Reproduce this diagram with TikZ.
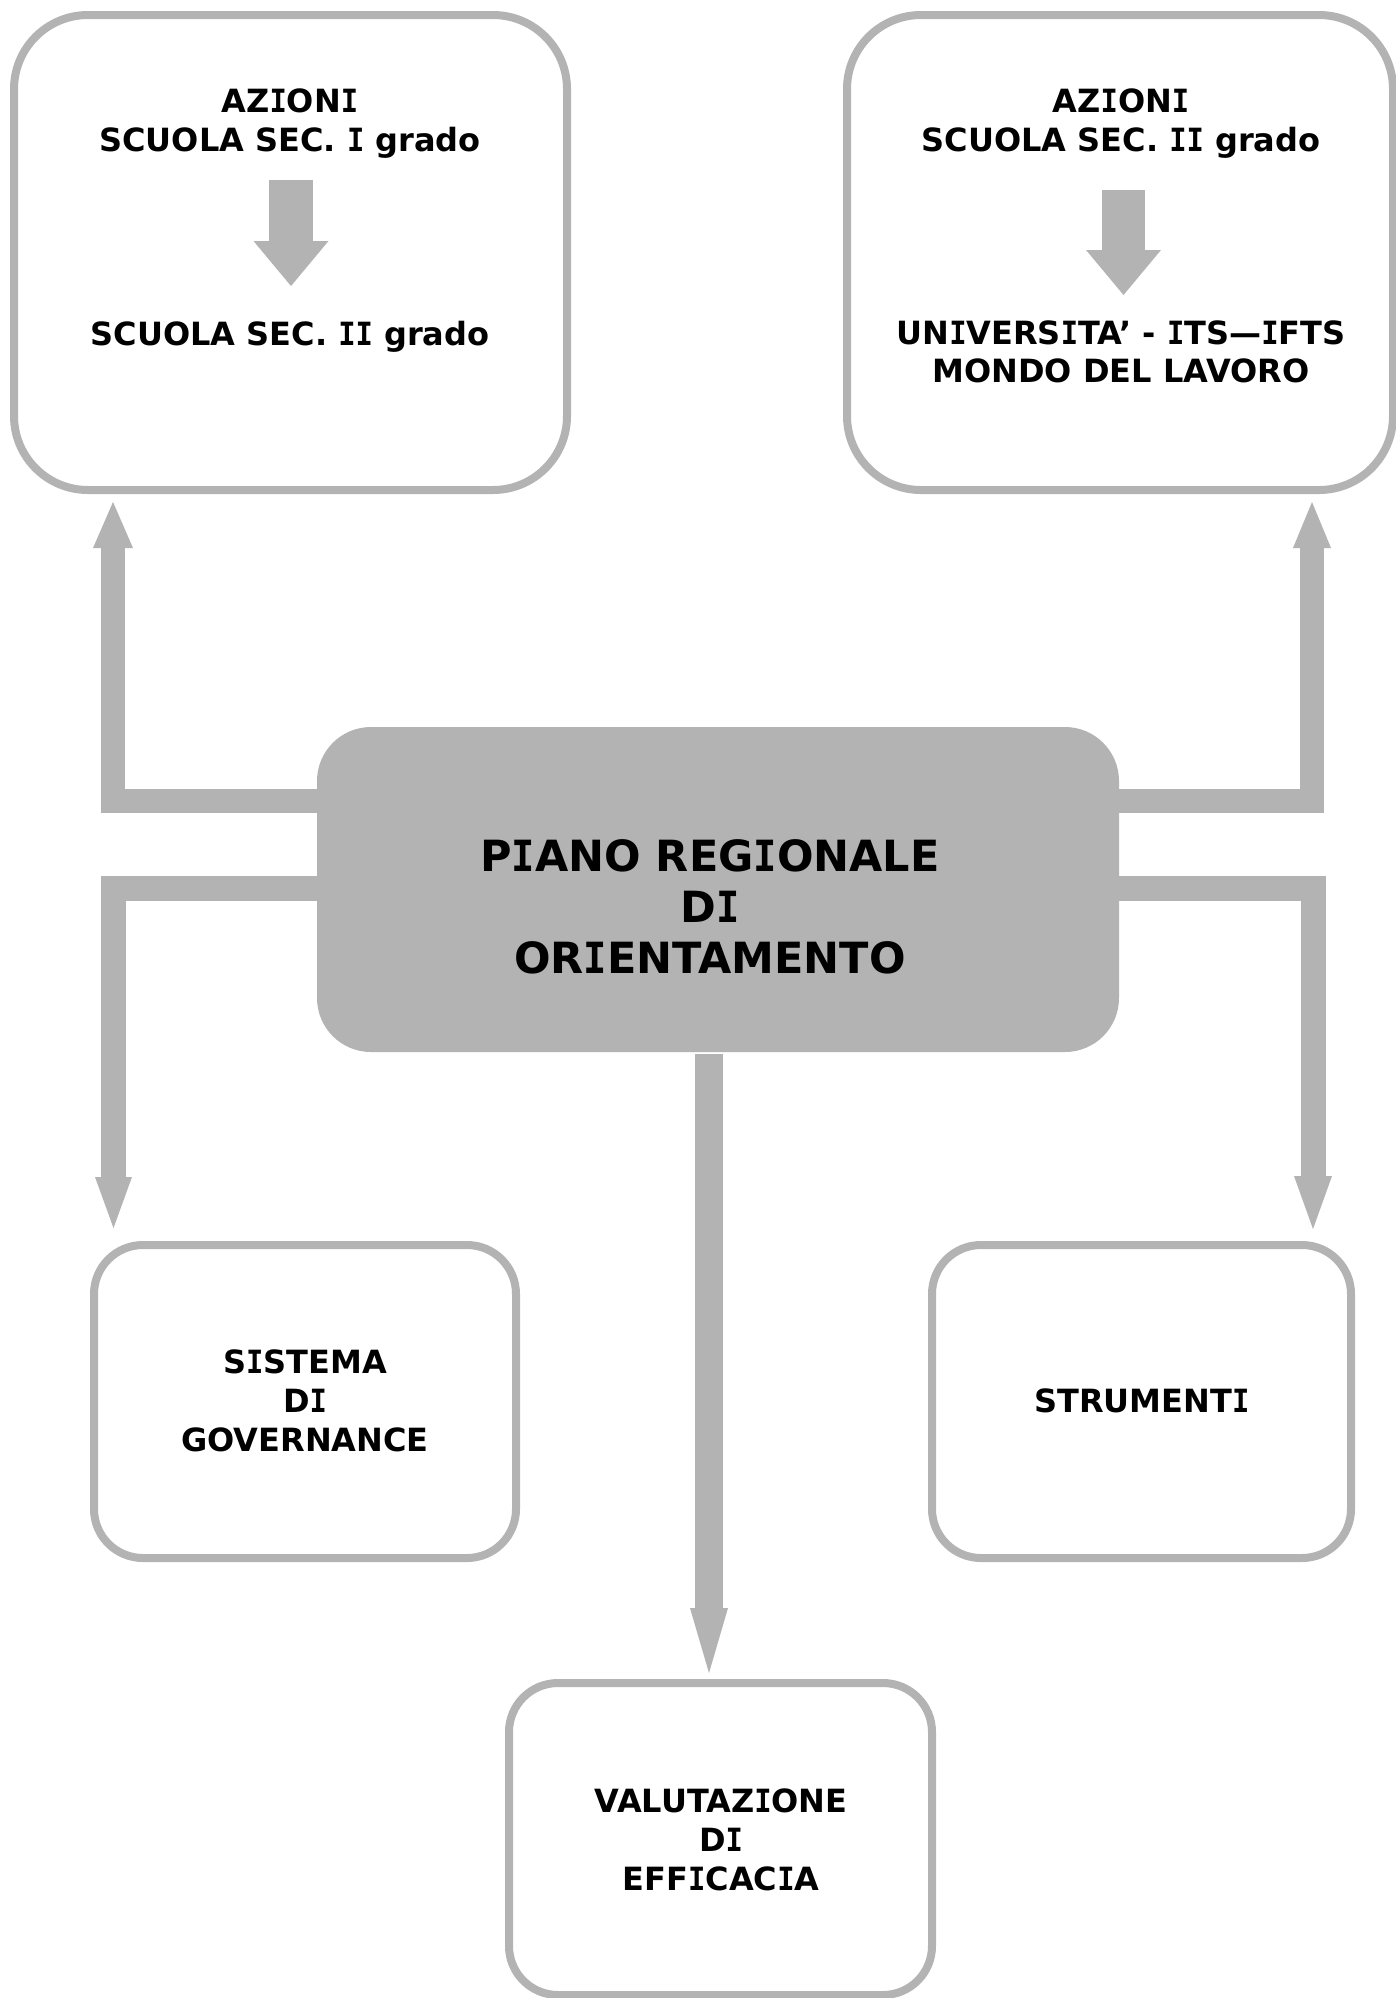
\documentclass[tikz,border=0pt]{standalone}
\usepackage{graphicx}
\usepackage{fontspec}
\setmainfont{DejaVu Sans}
\newfontfamily\monofam{DejaVu Sans Mono}
\newcommand\Iser{{\monofam\bfseries\scalebox{0.9}[1]{I}}}
\usetikzlibrary{arrows.meta}
\definecolor{boxgray}{RGB}{179,179,179}
\begin{document}
\begin{tikzpicture}[x=1pt,y=-1pt,
  framebox/.style={draw=boxgray, line width=8pt, fill=white, inner sep=0pt},
  mainbox/.style={fill=boxgray, draw=none, inner sep=0pt, outer sep=0pt, rounded corners=54pt},
  lbl/.style={font=\bfseries\fontsize{32}{39}\selectfont, align=center, inner sep=0pt, text=black},
  biglbl/.style={font=\bfseries\fontsize{43}{50.8}\selectfont, align=center, inner sep=0pt, text=black},
  fat/.style={draw=boxgray, line width=#1},
  fat/.default=24pt]
\useasboundingbox (0,0) rectangle (1396,1998);
\fill[white] (0,0) rectangle (1396,1998);

% boxes
\node[framebox, rounded corners=74pt, minimum width=553pt, minimum height=475pt] (tl) at (290.5,252.5) {};
\node[framebox, rounded corners=74pt, minimum width=546pt, minimum height=475pt] (tr) at (1120,252.5) {};
\node[framebox, rounded corners=49pt, minimum width=422pt, minimum height=313pt] (bl) at (305,1401.5) {};
\node[framebox, rounded corners=49pt, minimum width=419pt, minimum height=313pt] (br) at (1141.5,1401.5) {};
\node[framebox, rounded corners=49pt, minimum width=423pt, minimum height=312pt] (bm) at (720.5,1839) {};

% coordinates for connectors
\coordinate (bandU) at (0,800.5);
\coordinate (bandL) at (0,888.5);
\coordinate (tipUL) at (113,502);
\coordinate (tipLL) at (113.5,1228);
\coordinate (tipUR) at (1312,502);
\coordinate (tipLR) at (1313,1229);
\coordinate (tipM) at (709,1673);
\coordinate (sa1s) at (291,180);
\coordinate (sa1e) at (291,286);
\coordinate (sa2s) at (1123.5,190);
\coordinate (sa2e) at (1123.5,295);

% main box
\node[mainbox, minimum width=802pt, minimum height=325pt] (cbox) at (718,889.5) {};

% connectors
\draw[fat=24pt, -{Triangle[width=40pt,length=46pt,line width=0pt]}]
  ([xshift=20pt]cbox.west |- bandU) -| (tipUL);
\draw[fat=25pt, -{Triangle[width=37pt,length=51pt,line width=0pt]}]
  ([xshift=20pt]cbox.west |- bandL) -| (tipLL);
\draw[fat=24pt, -{Triangle[width=38pt,length=46pt,line width=0pt]}]
  ([xshift=-20pt]cbox.east |- bandU) -| (tipUR);
\draw[fat=25pt, -{Triangle[width=38pt,length=53pt,line width=0pt]}]
  ([xshift=-20pt]cbox.east |- bandL) -| (tipLR);
\draw[fat=28pt, -{Triangle[width=38pt,length=65pt,line width=0pt]}]
  ([yshift=-2pt]cbox.south -| tipM) -- (tipM);

% small arrows inside top boxes
\draw[fat=44pt, -{Triangle[width=75pt,length=45pt,line width=0pt]}] (sa1s) -- (sa1e);
\draw[fat=43pt, -{Triangle[width=75pt,length=45pt,line width=0pt]}] (sa2s) -- (sa2e);

% texts
\node[lbl, anchor=north] (tlA) at (290,88.3) {AZ\Iser{}ON\Iser\\SCUOLA SEC. \Iser{} grado};
\node[lbl, anchor=base] (tlB) at (290,345) {SCUOLA SEC. \Iser\Iser{} grado};
\node[lbl, anchor=north] (trA) at (1121,88.3) {AZ\Iser{}ON\Iser\\SCUOLA SEC. \Iser\Iser{} grado};
\node[lbl, anchor=north, font=\bfseries\fontsize{32}{38}\selectfont] (trB) at (1121,321) {UN\Iser{}VERS\Iser{}TA’ - \Iser{}TS—\Iser{}FTS\\MONDO DEL LAVORO};
\node[biglbl, anchor=north] (cT) at (710,839.8) {P\Iser{}ANO REG\Iser{}ONALE\\D\Iser\\OR\Iser{}ENTAMENTO};
\node[lbl, anchor=north] (blT) at (305,1349.3) {S\Iser{}STEMA\\D\Iser\\GOVERNANCE};
\node[lbl, anchor=base] (brT) at (1142,1412) {STRUMENT\Iser};
\node[lbl, anchor=north] (bmT) at (721,1788.3) {VALUTAZ\Iser{}ONE\\D\Iser\\EFF\Iser{}CAC\Iser{}A};
\end{tikzpicture}
\end{document}
